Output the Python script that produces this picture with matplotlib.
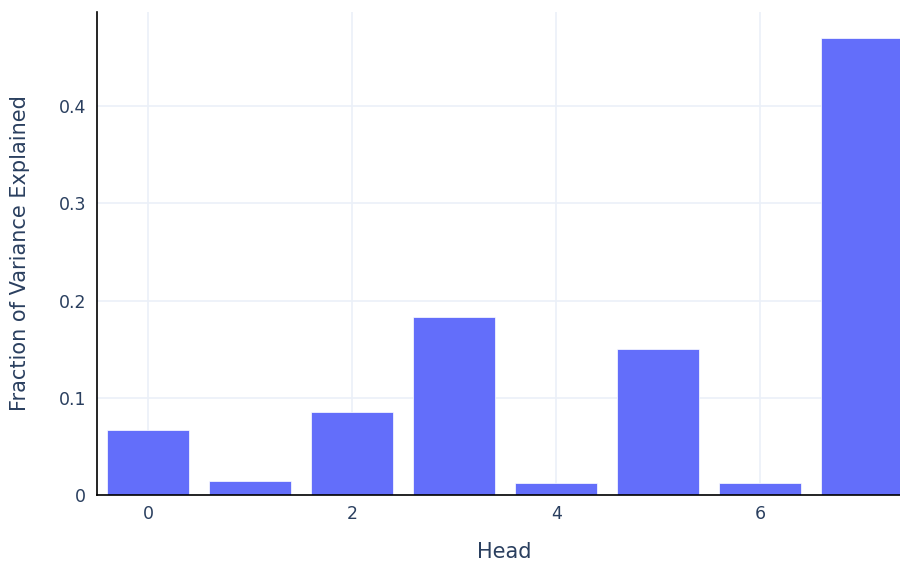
import matplotlib.pyplot as plt

heads = [0, 1, 2, 3, 4, 5, 6, 7]
variance = [0.0668, 0.0144, 0.0853, 0.1835, 0.0123, 0.150, 0.0123, 0.470]
xticks = [0, 2, 4, 6]
yticks = [0, 0.1, 0.2, 0.3, 0.4]
ytick_labels = ['0', '0.1', '0.2', '0.3', '0.4']

text_color = '#2a3f5f'
grid_color = '#ebf0f8'
bar_color = '#636efa'

fig = plt.figure(figsize=(9, 5.62), dpi=100)
W, H = 900, 562
ax = fig.add_axes([97 / W, (H - 495) / H, (900 - 97) / W, (495 - 12) / H])

ax.bar(heads, variance, width=0.8, color=bar_color, edgecolor='white',
       linewidth=0.5, zorder=3)

ax.set_xlim(-0.5, 7.37)
ax.set_ylim(0, 0.4967)
ax.set_xticks(xticks)
ax.set_yticks(yticks)
ax.set_yticklabels(ytick_labels)

ax.grid(True, color=grid_color, linewidth=1.2, zorder=0)
ax.set_axisbelow(True)

for side in ['top', 'right']:
    ax.spines[side].set_visible(False)
for side in ['left', 'bottom']:
    ax.spines[side].set_color('#000000')
    ax.spines[side].set_linewidth(1.2)
    ax.spines[side].set_zorder(4)

ax.tick_params(length=0, labelsize=12.5, labelcolor=text_color, pad=8)
ax.tick_params(axis='x', pad=7)

ax.set_xlabel('Head', fontsize=15, color=text_color)
ax.xaxis.set_label_coords((504 - 97) / (900 - 97), -(542 - 495) / (495 - 12))
ax.xaxis.label.set_verticalalignment('top')
ax.set_ylabel('Fraction of Variance Explained', fontsize=15,
              color=text_color)
ax.yaxis.set_label_coords(-(97 - 30) / (900 - 97), 0.5)

fig.savefig('out.png', dpi=100)
